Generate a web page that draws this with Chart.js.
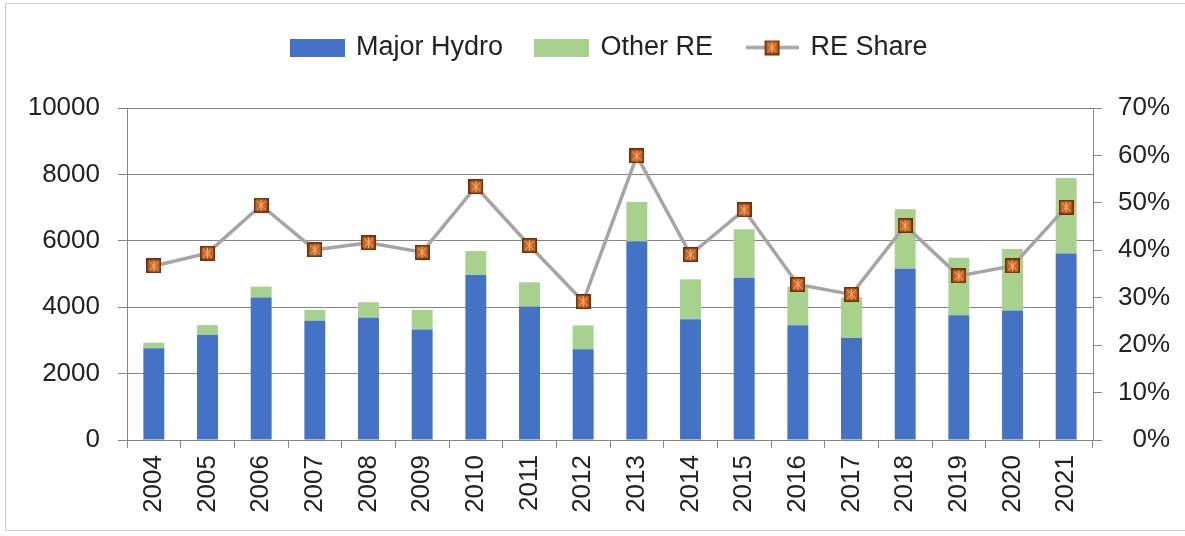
<!DOCTYPE html>
<html>
<head>
<meta charset="utf-8">
<script src="https://cdn.jsdelivr.net/npm/chart.js@4/dist/chart.umd.min.js"></script>
<style>
  html, body { margin: 0; padding: 0; background: #fff; }
  #wrap { position: relative; width: 1185px; height: 536px; }
  #frame { position: absolute; left: 5px; top: 3px; width: 1190px; height: 526px; border: 1px solid #cfcfcf; }
  #chart { position: absolute; left: 0; top: 0; }
</style>
</head>
<body>
<div id="wrap">
  <div id="frame"></div>
  <canvas id="chart" width="1185" height="536"></canvas>
</div>
<script>
// years and generation split (left axis), RE share in % (right axis)
const years = ['2004', '2005', '2006', '2007', '2008', '2009', '2010', '2011', '2012',
  '2013', '2014', '2015', '2016', '2017', '2018', '2019', '2020', '2021'];
const majorHydro = [2760, 3160, 4290, 3590, 3680, 3330, 4970, 4020, 2730,
  5990, 3640, 4890, 3460, 3070, 5160, 3760, 3900, 5620];
const otherRE = [170, 300, 330, 330, 470, 590, 720, 730, 720,
  1180, 1200, 1460, 1160, 1230, 1790, 1730, 1850, 2270];
const reShare = [36.7, 39.4, 49.5, 40.1, 41.6, 39.6, 53.4, 41.0, 29.2,
  59.9, 39.1, 48.5, 32.8, 30.7, 45.2, 34.6, 36.7, 49.1];
const leftTicks = [0, 2000, 4000, 6000, 8000, 10000];

const BLUE = '#4472C4';
const GREEN = '#A9D18E';
const GREY_LINE = '#A5A5A5';
const AXIS = '#868686';
const TEXT = '#222';
const FONT = 'Liberation Sans';

// square marker with a star drawn through it
function makeMarker(size) {
  const c = document.createElement('canvas');
  c.width = size; c.height = size;
  const g = c.getContext('2d');
  const grad = g.createRadialGradient(size / 2, size / 2, 1, size / 2, size / 2, size * 0.7);
  grad.addColorStop(0, '#D9772F');
  grad.addColorStop(1, '#9C4512');
  g.fillStyle = grad;
  g.fillRect(0, 0, size, size);
  g.strokeStyle = '#6E300C';
  g.lineWidth = 1.5;
  g.strokeRect(0.75, 0.75, size - 1.5, size - 1.5);
  g.strokeStyle = '#F6B27A';
  g.lineWidth = 1;
  g.beginPath();
  g.moveTo(3, 3); g.lineTo(size - 3, size - 3);
  g.moveTo(size - 3, 3); g.lineTo(3, size - 3);
  g.moveTo(size / 2, 2); g.lineTo(size / 2, size - 2);
  g.stroke();
  return c;
}

function makeBox(color, w, h) {
  const c = document.createElement('canvas');
  c.width = w; c.height = h;
  const g = c.getContext('2d');
  g.fillStyle = color;
  g.fillRect(0, 0, w, h);
  return c;
}

function makeLineKey(w, h) {
  const c = document.createElement('canvas');
  c.width = w; c.height = h;
  const g = c.getContext('2d');
  g.strokeStyle = GREY_LINE;
  g.lineWidth = 3.5;
  g.beginPath();
  g.moveTo(0, h / 2); g.lineTo(w, h / 2);
  g.stroke();
  const m = makeMarker(15);
  g.drawImage(m, (w - 15) / 2, (h - 15) / 2);
  return c;
}

const marker = makeMarker(15);
const legendIcons = [makeBox(BLUE, 55, 18), makeBox(GREEN, 55, 18), makeLineKey(53, 18)];

// fixed legend band above the plot
const legendBand = {
  id: 'legendBand',
  beforeInit(chart) {
    const fit = chart.legend.fit;
    chart.legend.fit = function () {
      fit.bind(chart.legend)();
      this.height = 108;
    };
  }
};

new Chart(document.getElementById('chart'), {
  data: {
    labels: years,
    datasets: [
      {
        type: 'bar', label: 'Major Hydro', data: majorHydro,
        backgroundColor: BLUE, yAxisID: 'y', stack: 're', order: 2,
        barPercentage: 0.39, categoryPercentage: 1
      },
      {
        type: 'bar', label: 'Other RE', data: otherRE,
        backgroundColor: GREEN, yAxisID: 'y', stack: 're', order: 2,
        barPercentage: 0.39, categoryPercentage: 1
      },
      {
        type: 'line', label: 'RE Share', data: reShare,
        borderColor: GREY_LINE, borderWidth: 3.5, tension: 0,
        pointStyle: marker, pointRadius: 8, yAxisID: 'y1', order: 1
      }
    ]
  },
  options: {
    responsive: false,
    animation: false,
    layout: { padding: { top: 0, left: 0, right: 15, bottom: 0 } },
    plugins: {
      tooltip: { enabled: false },
      legend: {
        position: 'top',
        fullSize: false,
        labels: {
          usePointStyle: true,
          pointStyleWidth: 50,
          boxHeight: 18,
          padding: 34,
          color: TEXT,
          font: { family: FONT, size: 27 },
          sort: (a, b) => a.datasetIndex - b.datasetIndex,
          generateLabels(chart) {
            return chart.data.datasets.map((ds, i) => ({
              text: ds.label,
              datasetIndex: i,
              pointStyle: legendIcons[i],
              fillStyle: 'transparent',
              strokeStyle: 'transparent',
              lineWidth: 0,
              fontColor: TEXT,
              hidden: false
            }));
          }
        }
      }
    },
    scales: {
      x: {
        stacked: true,
        grid: { offset: true, drawOnChartArea: false, drawTicks: true, tickLength: 8, color: AXIS },
        border: { display: true, color: AXIS },
        ticks: {
          autoSkip: false, minRotation: 90, maxRotation: 90, padding: 7,
          color: TEXT, font: { family: FONT, size: 26 }
        },
        afterFit(scale) { scale.height = 96; }
      },
      y: {
        stacked: true,
        position: 'left',
        min: 0, max: 10000,
        afterBuildTicks(scale) { scale.ticks = leftTicks.map(v => ({ value: v })); },
        grid: { color: AXIS, drawTicks: true, tickLength: 9 },
        border: { display: true, color: AXIS },
        ticks: {
          padding: 18, color: TEXT, font: { family: FONT, size: 26 },
          callback: v => String(v)
        },
        afterFit(scale) { scale.width = 127; }
      },
      y1: {
        position: 'right',
        min: 0, max: 70,
        ticks: {
          stepSize: 10, padding: 8, crossAlign: 'far',
          color: TEXT, font: { family: FONT, size: 26 },
          callback: v => v + '%'
        },
        grid: { drawOnChartArea: false, drawTicks: true, tickLength: 9, color: AXIS },
        border: { display: true, color: AXIS },
        afterFit(scale) { scale.width = 77; }
      }
    }
  },
  plugins: [legendBand]
});
</script>
</body>
</html>
